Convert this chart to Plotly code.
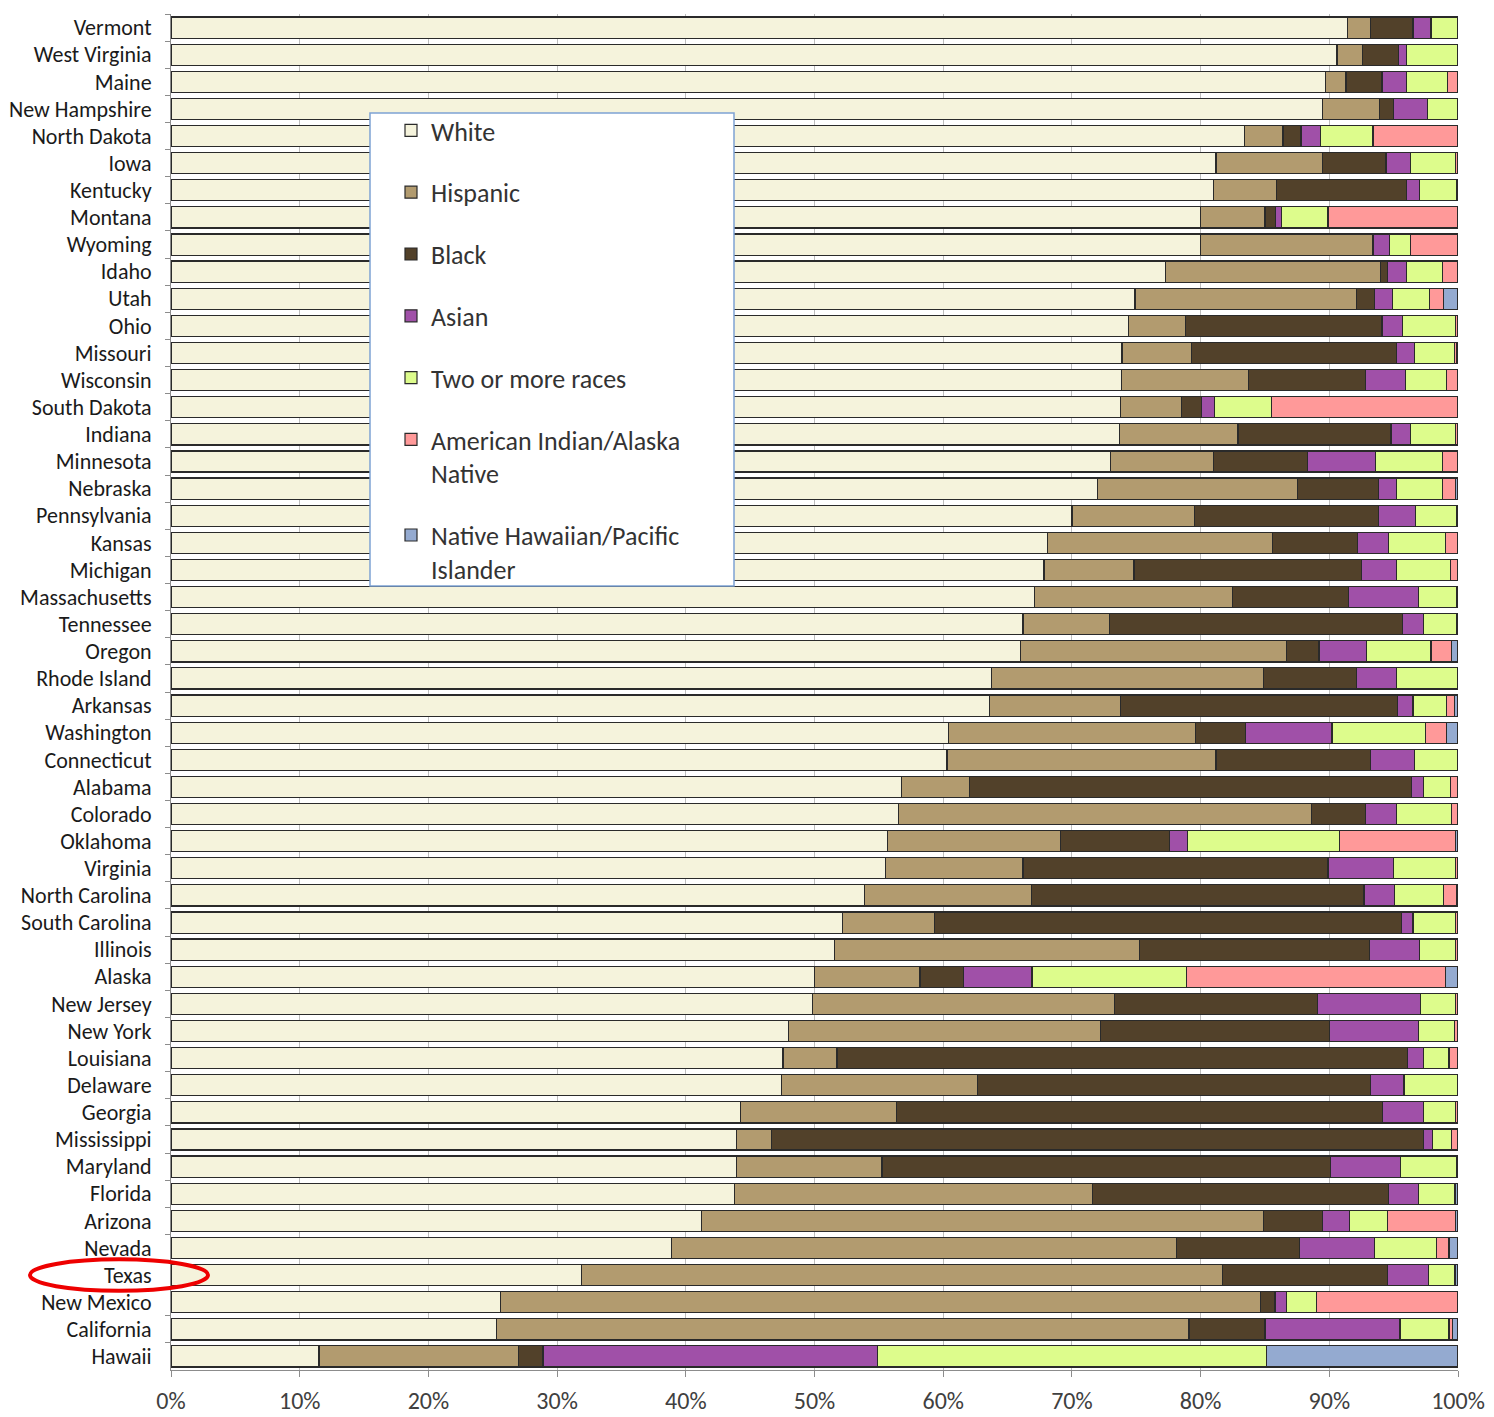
import plotly.graph_objects as go

states = ["Vermont", "West Virginia", "Maine", "New Hampshire", "North Dakota", "Iowa",
          "Kentucky", "Montana", "Wyoming", "Idaho", "Utah", "Ohio", "Missouri", "Wisconsin",
          "South Dakota", "Indiana", "Minnesota", "Nebraska", "Pennsylvania", "Kansas",
          "Michigan", "Massachusetts", "Tennessee", "Oregon", "Rhode Island", "Arkansas",
          "Washington", "Connecticut", "Alabama", "Colorado", "Oklahoma", "Virginia",
          "North Carolina", "South Carolina", "Illinois", "Alaska", "New Jersey", "New York",
          "Louisiana", "Delaware", "Georgia", "Mississippi", "Maryland", "Florida", "Arizona",
          "Nevada", "Texas", "New Mexico", "California", "Hawaii"]

white = [91.4, 90.6, 89.7, 89.5, 83.4, 81.2, 81.0, 80.0, 80.0, 77.3, 74.9, 74.4, 73.9, 73.9,
         73.8, 73.7, 73.0, 72.0, 70.0, 68.2, 67.9, 67.1, 66.2, 66.0, 63.8, 63.6, 60.5, 60.3,
         56.8, 56.6, 55.7, 55.5, 53.8, 52.2, 51.6, 50.0, 49.9, 48.0, 47.5, 47.5, 44.3, 44.0,
         44.0, 43.8, 41.2, 38.9, 31.9, 25.6, 25.3, 11.5]
hispanic = [1.8, 2.0, 1.6, 4.4, 3.0, 8.3, 4.9, 5.0, 13.4, 16.7, 17.2, 4.4, 5.4, 9.9,
            4.7, 9.2, 8.0, 15.5, 9.5, 17.5, 7.0, 15.4, 6.7, 20.7, 21.2, 10.2, 19.2, 20.9,
            5.3, 32.1, 13.4, 10.7, 13.0, 7.1, 23.7, 8.2, 23.5, 24.2, 4.2, 15.2, 12.1, 2.7,
            11.3, 27.8, 43.7, 39.3, 49.9, 59.0, 53.8, 15.5]
black = [3.3, 2.8, 2.8, 1.1, 1.4, 4.9, 10.1, 0.8, 0.0, 0.5, 1.4, 15.3, 15.9, 9.1,
         1.6, 11.9, 7.3, 6.3, 14.3, 6.6, 17.7, 9.0, 22.8, 2.5, 7.2, 21.5, 3.9, 12.0,
         34.4, 4.2, 8.5, 23.7, 25.8, 36.3, 17.9, 3.4, 15.8, 17.8, 44.3, 30.6, 37.8, 50.7,
         34.9, 23.0, 4.6, 9.6, 12.8, 1.1, 5.9, 1.9]
asian = [1.4, 0.6, 1.9, 2.6, 1.5, 1.9, 1.0, 0.5, 1.3, 1.5, 1.4, 1.6, 1.4, 3.1,
         1.0, 1.5, 5.3, 1.4, 2.9, 2.4, 2.7, 5.4, 1.6, 3.7, 3.1, 1.2, 6.7, 3.4,
         0.9, 2.4, 1.4, 5.1, 2.4, 0.9, 3.9, 5.3, 8.0, 6.9, 1.2, 2.6, 3.2, 0.7,
         5.4, 2.3, 2.1, 5.8, 3.2, 0.9, 10.5, 26.0]
two_or_more = [2.1, 4.0, 3.2, 2.4, 4.1, 3.5, 2.9, 3.6, 1.6, 2.8, 2.9, 4.1, 3.1, 3.2,
               4.4, 3.5, 5.2, 3.6, 3.2, 4.4, 4.2, 3.0, 2.6, 5.0, 4.8, 2.6, 7.3, 3.4,
               2.1, 4.3, 11.8, 4.8, 3.8, 3.3, 2.8, 12.0, 2.7, 2.8, 2.0, 4.2, 2.5, 1.5,
               4.4, 2.8, 2.9, 4.8, 2.0, 2.3, 3.8, 30.2]
aian = [0.0, 0.0, 0.8, 0.0, 6.6, 0.2, 0.1, 10.1, 3.7, 1.2, 1.1, 0.2, 0.2, 0.9,
        14.5, 0.2, 1.2, 1.0, 0.1, 1.0, 0.6, 0.1, 0.1, 1.6, 0.0, 0.6, 1.6, 0.0,
        0.6, 0.5, 9.0, 0.2, 1.0, 0.2, 0.2, 20.1, 0.2, 0.3, 0.7, 0.0, 0.2, 0.5,
        0.1, 0.1, 5.3, 1.0, 0.1, 11.0, 0.3, 0.0]
nhpi = [0.0, 0.0, 0.0, 0.0, 0.0, 0.0, 0.0, 0.0, 0.0, 0.0, 1.1, 0.0, 0.1, 0.0,
        0.0, 0.0, 0.0, 0.2, 0.0, 0.0, 0.0, 0.0, 0.0, 0.5, 0.0, 0.3, 0.9, 0.0,
        0.0, 0.0, 0.2, 0.0, 0.1, 0.0, 0.0, 1.0, 0.0, 0.0, 0.0, 0.0, 0.0, 0.0,
        0.0, 0.2, 0.2, 0.7, 0.2, 0.0, 0.4, 14.9]

series_names = ["White", "Hispanic", "Black", "Asian", "Two or more races",
                "American Indian/Alaska<br>Native", "Native Hawaiian/Pacific<br>Islander"]
series_values = [white, hispanic, black, asian, two_or_more, aian, nhpi]
series_colors = ["#F5F3DC", "#B29B6F", "#52412A", "#A050A8", "#DDFC8C", "#FF9999", "#94AAD0"]

x_tick_values = [0, 10, 20, 30, 40, 50, 60, 70, 80, 90, 100]
x_tick_labels = ["0%", "10%", "20%", "30%", "40%", "50%", "60%", "70%", "80%", "90%", "100%"]
highlighted_state = "Texas"

FONT = "Carlito, Lato, 'Open Sans', sans-serif"

fig = go.Figure()
for name, vals, col in zip(series_names, series_values, series_colors):
    fig.add_trace(go.Bar(
        y=states, x=vals, orientation="h", name=name, legendgroup=name,
        marker=dict(color=col, line=dict(color="#2a2a2a", width=1.2)),
    ))

N = len(states)
idx = states.index(highlighted_state)

# page has an 8px body margin; plot area targets x 171..1458, y 14..1370 in the window
PW, PH = 1287, 1356

fig.update_layout(
    width=1486, height=1409,
    margin=dict(l=163, r=36, t=6, b=47, autoexpand=False),
    barmode="stack", barnorm="percent", bargap=0.22,
    plot_bgcolor="white", paper_bgcolor="white",
    font=dict(family=FONT, color="#222"),
    xaxis=dict(range=[0, 100], tickvals=x_tick_values, ticktext=x_tick_labels,
               automargin=False,
               showgrid=True, gridcolor="#bdbdbd", gridwidth=1,
               showline=True, linecolor="#8c8c8c", linewidth=1,
               ticks="outside", ticklen=6, tickcolor="#8c8c8c",
               tickfont=dict(size=24, color="#404040", family=FONT),
               ticklabelstandoff=3, zeroline=False),
    yaxis=dict(autorange="reversed", automargin=False,
               showline=True, linecolor="#8c8c8c", linewidth=1,
               ticks="outside", tickson="boundaries", ticklen=5, tickcolor="#8c8c8c",
               tickfont=dict(size=22, color="#1a1a1a", family=FONT),
               ticklabelstandoff=14, showgrid=False),
    legend=dict(x=(391 - 171) / PW, xanchor="left", y=(1370 - 107) / PH, yanchor="top",
                bgcolor="rgba(0,0,0,0)", borderwidth=0, valign="top",
                font=dict(size=26, color="#333", family=FONT),
                traceorder="grouped", tracegroupgap=25),
    shapes=[
        dict(type="rect", xref="paper", yref="paper",
             x0=(370 - 171) / PW, x1=(734 - 171) / PW,
             y0=(1370 - 586) / PH, y1=(1370 - 113) / PH,
             fillcolor="white", line=dict(color="#7DA2D4", width=1.5), layer="above"),
        dict(type="circle", xref="paper", yref="paper",
             x0=(30 - 171) / PW, x1=(208 - 171) / PW,
             y0=1 - (idx + 0.5 + 0.58) / N, y1=1 - (idx + 0.5 - 0.58) / N,
             line=dict(color="#EE0000", width=4), layer="above"),
    ],
)

fig.write_html("out.html")
